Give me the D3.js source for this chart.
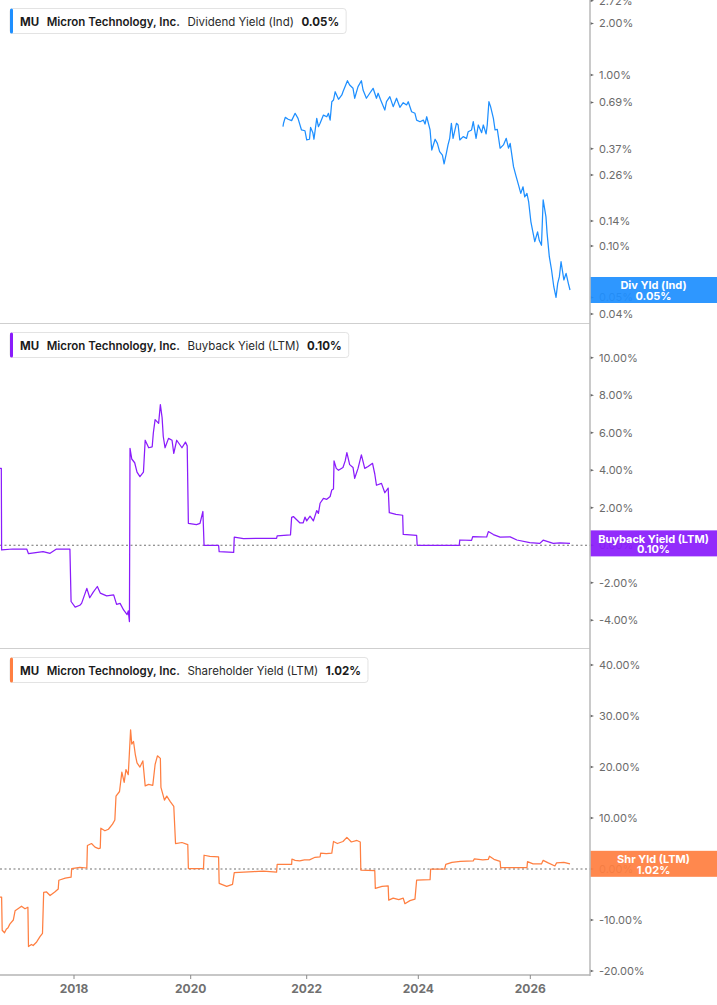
<!DOCTYPE html>
<html>
<head>
<meta charset="utf-8">
<script src="https://cdn.jsdelivr.net/npm/d3@7"></script>
<style>
  body { margin: 0; background: #fff; }
  svg { display: block; font-family: Inter, "Noto Sans", sans-serif; }
</style>
</head>
<body>
<div id="chart"></div>
<script>
// values: [decimal year, percent]
const yearTicks = [2018, 2020, 2022, 2024, 2026];
const divTicks = [2.72, 2.00, 1.00, 0.69, 0.37, 0.26, 0.14, 0.10, 0.05, 0.04];
const bbTicks = [-4, -2, 0, 2, 4, 6, 8, 10];
const shrTicks = [-20, -10, 0, 10, 20, 30, 40];

const ticker = "MU";
const company = "Micron Technology, Inc.";
const metricNames = ["Dividend Yield (Ind)", "Buyback Yield (LTM)", "Shareholder Yield (LTM)"];
const shortNames = ["Div Yld (Ind)", "Buyback Yield (LTM)", "Shr Yld (LTM)"];
const lastValues = ["0.05%", "0.10%", "1.02%"];

const divSeries = [
    [2021.59, 0.499], [2021.60, 0.522], [2021.63, 0.565], [2021.68, 0.551], [2021.74, 0.541],
    [2021.80, 0.597], [2021.85, 0.558], [2021.91, 0.477], [2021.97, 0.472], [2022.00, 0.417],
    [2022.05, 0.421], [2022.07, 0.494], [2022.11, 0.460], [2022.13, 0.421], [2022.18, 0.558],
    [2022.21, 0.499], [2022.24, 0.522], [2022.30, 0.583], [2022.36, 0.570], [2022.39, 0.597],
    [2022.42, 0.545], [2022.45, 0.698], [2022.48, 0.714], [2022.51, 0.798], [2022.57, 0.721],
    [2022.63, 0.764], [2022.65, 0.798], [2022.73, 0.926], [2022.77, 0.874], [2022.83, 0.836],
    [2022.86, 0.731], [2022.92, 0.855], [2022.98, 0.926], [2023.01, 0.817], [2023.07, 0.731],
    [2023.13, 0.782], [2023.19, 0.836], [2023.25, 0.731], [2023.28, 0.782], [2023.32, 0.721],
    [2023.40, 0.624], [2023.43, 0.698], [2023.49, 0.747], [2023.55, 0.653], [2023.61, 0.731],
    [2023.67, 0.647], [2023.73, 0.689], [2023.79, 0.668], [2023.82, 0.698], [2023.88, 0.610],
    [2023.94, 0.597], [2023.97, 0.545], [2024.03, 0.533], [2024.09, 0.545], [2024.12, 0.517],
    [2024.15, 0.570], [2024.21, 0.477], [2024.24, 0.364], [2024.30, 0.421], [2024.34, 0.398],
    [2024.38, 0.356], [2024.43, 0.340], [2024.46, 0.302], [2024.50, 0.348], [2024.53, 0.390],
    [2024.56, 0.426], [2024.59, 0.522], [2024.62, 0.426], [2024.68, 0.522], [2024.71, 0.510],
    [2024.74, 0.417], [2024.80, 0.436], [2024.86, 0.426], [2024.89, 0.466], [2024.95, 0.477],
    [2024.98, 0.533], [2025.03, 0.426], [2025.07, 0.510], [2025.13, 0.460], [2025.16, 0.510],
    [2025.21, 0.452], [2025.23, 0.510], [2025.26, 0.698], [2025.29, 0.653], [2025.34, 0.558],
    [2025.37, 0.477], [2025.41, 0.481], [2025.46, 0.373], [2025.52, 0.390], [2025.57, 0.426],
    [2025.61, 0.373], [2025.64, 0.398], [2025.70, 0.291], [2025.74, 0.260], [2025.79, 0.227],
    [2025.83, 0.203], [2025.87, 0.222], [2025.90, 0.194], [2025.94, 0.203], [2025.97, 0.182],
    [2026.01, 0.139], [2026.05, 0.119], [2026.08, 0.106], [2026.13, 0.121], [2026.16, 0.108],
    [2026.20, 0.101], [2026.23, 0.186], [2026.28, 0.148], [2026.30, 0.119], [2026.34, 0.0866],
    [2026.38, 0.0724], [2026.42, 0.0578], [2026.46, 0.0501], [2026.49, 0.0605], [2026.52, 0.0662],
    [2026.55, 0.0809], [2026.60, 0.0633], [2026.64, 0.0692], [2026.68, 0.0605], [2026.71, 0.0553]
];

const bbSeries = [
    [2016.73, 4.1], [2016.755, 4.1], [2016.76, -0.25], [2016.95, -0.2], [2017.19, -0.2],
    [2017.22, -0.45], [2017.47, -0.34], [2017.59, -0.43], [2017.70, -0.2], [2017.93, -0.2],
    [2017.95, -3.0], [2018.02, -3.3], [2018.10, -3.2], [2018.13, -3.1], [2018.22, -2.3],
    [2018.27, -2.8], [2018.33, -2.5], [2018.40, -2.2], [2018.45, -2.55], [2018.56, -2.7],
    [2018.68, -2.65], [2018.73, -3.15], [2018.79, -3.1], [2018.85, -3.45], [2018.91, -3.7],
    [2018.93, -3.5], [2018.95, -4.07], [2018.96, 5.17], [2018.99, 4.6], [2019.04, 4.4],
    [2019.08, 3.9], [2019.13, 3.66], [2019.19, 3.9], [2019.22, 5.6], [2019.28, 5.2],
    [2019.34, 5.25], [2019.36, 6.0], [2019.39, 6.7], [2019.45, 6.5], [2019.48, 7.5],
    [2019.51, 6.8], [2019.53, 5.8], [2019.56, 5.2], [2019.62, 5.7], [2019.68, 5.6],
    [2019.71, 4.9], [2019.76, 5.6], [2019.85, 5.2], [2019.91, 5.5], [2019.94, 5.3],
    [2019.96, 1.17], [2020.10, 1.1], [2020.16, 1.17], [2020.21, 1.8], [2020.23, 0.0],
    [2020.48, 0.0], [2020.49, -0.34], [2020.74, -0.38], [2020.75, 0.43], [2020.91, 0.35],
    [2021.20, 0.37], [2021.48, 0.37], [2021.49, 0.5], [2021.72, 0.55], [2021.74, 1.49],
    [2021.77, 1.53], [2021.88, 1.2], [2021.94, 1.2], [2021.97, 1.5], [2022.00, 1.3],
    [2022.06, 1.55], [2022.12, 1.3], [2022.18, 1.85], [2022.21, 1.7], [2022.24, 2.24],
    [2022.30, 2.5], [2022.36, 2.45], [2022.42, 2.6], [2022.45, 2.95], [2022.48, 3.0],
    [2022.49, 4.5], [2022.53, 4.1], [2022.57, 4.0], [2022.65, 4.15], [2022.69, 4.5],
    [2022.72, 4.94], [2022.77, 4.3], [2022.83, 4.15], [2022.86, 3.57], [2022.92, 4.1],
    [2022.98, 4.82], [2023.04, 4.1], [2023.10, 4.2], [2023.18, 4.37], [2023.22, 3.8],
    [2023.25, 3.2], [2023.34, 3.3], [2023.40, 2.8], [2023.46, 3.05], [2023.48, 1.74],
    [2023.60, 1.65], [2023.72, 1.6], [2023.73, 0.58], [2023.97, 0.53], [2023.98, 0.0],
    [2024.73, 0.0], [2024.74, 0.28], [2024.95, 0.26], [2024.97, 0.46], [2025.22, 0.44],
    [2025.25, 0.73], [2025.34, 0.57], [2025.46, 0.43], [2025.64, 0.45], [2025.76, 0.28],
    [2025.99, 0.14], [2026.17, 0.1], [2026.23, 0.27], [2026.41, 0.1], [2026.53, 0.13],
    [2026.71, 0.10]
];

const shrSeries = [
    [2016.73, -5.5], [2016.76, -5.5], [2016.77, -12.0], [2016.81, -12.5], [2016.84, -11.8],
    [2016.87, -11.5], [2016.90, -10.8], [2016.96, -10.0], [2016.99, -8.2], [2017.04, -7.8],
    [2017.10, -7.3], [2017.16, -7.8], [2017.21, -7.5], [2017.22, -15.2], [2017.27, -14.8],
    [2017.30, -15.0], [2017.36, -14.3], [2017.42, -13.2], [2017.46, -12.6], [2017.48, -4.6],
    [2017.53, -4.5], [2017.59, -5.2], [2017.67, -4.5], [2017.73, -3.9], [2017.74, -2.2],
    [2017.85, -1.8], [2017.95, -1.6], [2017.96, 0.1], [2018.10, 0.3], [2018.22, 0.2],
    [2018.23, 4.6], [2018.30, 5.0], [2018.36, 4.3], [2018.42, 4.0], [2018.45, 4.1],
    [2018.46, 8.0], [2018.53, 7.5], [2018.59, 7.8], [2018.66, 8.8], [2018.70, 9.6],
    [2018.72, 14.3], [2018.78, 15.2], [2018.82, 19.0], [2018.86, 17.0], [2018.89, 19.5],
    [2018.93, 18.5], [2018.97, 27.3], [2018.99, 24.5], [2019.02, 25.0], [2019.05, 22.5],
    [2019.08, 20.8], [2019.13, 20.0], [2019.18, 21.2], [2019.22, 16.3], [2019.28, 16.6],
    [2019.35, 16.4], [2019.39, 20.5], [2019.43, 22.2], [2019.48, 21.7], [2019.49, 16.0],
    [2019.55, 13.5], [2019.59, 14.3], [2019.65, 13.2], [2019.71, 12.3], [2019.74, 5.0],
    [2019.85, 5.2], [2019.95, 4.8], [2019.96, 0.1], [2020.22, 0.1], [2020.23, 2.7],
    [2020.33, 2.5], [2020.48, 2.4], [2020.49, -2.8], [2020.62, -3.4], [2020.72, -3.0],
    [2020.75, -0.7], [2021.08, -0.5], [2021.25, -0.4], [2021.48, -0.6], [2021.49, 0.9],
    [2021.74, 0.9], [2021.745, 1.96], [2021.80, 1.7], [2021.88, 1.6], [2021.96, 1.8],
    [2022.05, 1.8], [2022.15, 2.3], [2022.24, 2.4], [2022.25, 3.1], [2022.35, 3.0],
    [2022.45, 3.1], [2022.48, 5.4], [2022.55, 5.0], [2022.65, 5.4], [2022.72, 6.2],
    [2022.80, 5.3], [2022.90, 5.6], [2022.96, 5.3], [2022.97, -0.2], [2023.22, -0.3],
    [2023.23, -3.8], [2023.35, -3.4], [2023.46, -3.3], [2023.47, -6.1], [2023.55, -5.7],
    [2023.65, -6.0], [2023.73, -5.7], [2023.76, -6.8], [2023.85, -6.2], [2023.94, -5.9],
    [2023.97, -2.2], [2024.21, -2.1], [2024.22, 0.0], [2024.47, 0.0], [2024.49, 0.9],
    [2024.60, 1.3], [2024.75, 1.5], [2024.98, 1.6], [2025.00, 2.0], [2025.15, 1.8],
    [2025.25, 1.9], [2025.27, 2.5], [2025.35, 1.9], [2025.46, 1.5], [2025.47, 0.26],
    [2025.94, 0.26], [2025.95, 1.44], [2026.05, 1.0], [2026.20, 1.0], [2026.23, 1.7],
    [2026.32, 1.2], [2026.44, 0.6], [2026.47, 1.2], [2026.60, 1.3], [2026.71, 1.02]
];

// set up svg area
const svgWidth = 717;
const svgHeight = 1005;
const plotRight = 590;
const plotBottom = 975;

const svg = d3.select("#chart").append("svg")
    .attr("width", svgWidth)
    .attr("height", svgHeight);

svg.append("rect").attr("width", svgWidth).attr("height", svgHeight).attr("fill", "#fff");

// decimal year -> UTC date
const toDate = t => {
    const yr = Math.floor(t);
    const s = Date.UTC(yr, 0, 1), e = Date.UTC(yr + 1, 0, 1);
    return new Date(s + (t - yr) * (e - s));
};

// the reference axis is not evenly spaced, so use a piecewise time scale
const x = d3.scaleUtc()
    .domain(yearTicks.map(yr => new Date(Date.UTC(yr, 0, 1))))
    .range([74, 190.7, 306.7, 418.3, 530.3]);

const panels = [
    {
        series: divSeries, ticks: divTicks, color: "#1e8fff", top: 0, bottom: 323,
        y: d3.scaleLog().domain([0.03546, 2.745]).range([323, 0]), zero: false
    },
    {
        series: bbSeries, ticks: bbTicks, color: "#8a1cfb", top: 324, bottom: 648,
        y: d3.scaleLinear().domain([-5.48, 11.8]).range([648, 324]), zero: true
    },
    {
        series: shrSeries, ticks: shrTicks, color: "#ff7f41", top: 649, bottom: 975,
        y: d3.scaleLinear().domain([-20.78, 43.14]).range([975, 649]), zero: true
    }
];

const fmt = d => d.toFixed(2) + "%";

panels.forEach((p, i) => {
    const g = svg.append("g");

    // clip region for the line
    g.append("clipPath").attr("id", `clip${i}`)
        .append("rect")
        .attr("x", 0).attr("y", p.top)
        .attr("width", plotRight).attr("height", p.bottom - p.top);

    // right axis ticks
    const tickG = g.append("g")
        .selectAll("g")
        .data(p.ticks)
        .enter()
        .append("g")
        .attr("transform", d => `translate(${plotRight}, ${p.y(d)})`);

    tickG.append("path")
        .attr("d", "M0,-1.5L4,0L0,1.5Z")
        .attr("fill", "#666");

    tickG.append("text")
        .attr("x", 9)
        .attr("dy", "0.35em")
        .attr("font-size", 11)
        .attr("fill", "#6b6b6b")
        .text(fmt);

    // dotted zero line
    if (p.zero) {
        g.append("line")
            .attr("x1", 0).attr("x2", plotRight)
            .attr("y1", p.y(0)).attr("y2", p.y(0))
            .attr("stroke", "#707070")
            .attr("stroke-width", 1.1)
            .attr("stroke-dasharray", "2,2.5");
    }

    // series line
    const line = d3.line()
        .x(d => x(toDate(d[0])))
        .y(d => p.y(d[1]));

    g.append("path")
        .datum(p.series)
        .attr("clip-path", `url(#clip${i})`)
        .attr("d", line)
        .attr("fill", "none")
        .attr("stroke", p.color)
        .attr("stroke-width", 1.25)
        .attr("stroke-linejoin", "round");

    // last value box on the right
    const last = p.series[p.series.length - 1];
    const cy = p.y(last[1]);
    g.append("rect")
        .attr("x", plotRight).attr("y", cy - 13)
        .attr("width", svgWidth - plotRight).attr("height", 26)
        .attr("fill", p.color)
        .attr("fill-opacity", 0.93);

    const boxText = g.append("text")
        .attr("text-anchor", "middle")
        .attr("font-size", 11)
        .attr("font-weight", 700)
        .attr("fill", "#fff");
    boxText.append("tspan").attr("x", 653.5).attr("y", cy - 0.5).text(shortNames[i]);
    boxText.append("tspan").attr("x", 653.5).attr("y", cy + 10).text(lastValues[i]);

    // legend box at top left
    const ly = p.top + 8.5;
    const leg = g.append("g").attr("transform", `translate(10, ${ly})`);
    const legBg = leg.append("rect")
        .attr("height", 25).attr("rx", 3)
        .attr("fill", "#fff")
        .attr("stroke", "#e3e3e3");
    leg.append("rect")
        .attr("width", 3).attr("height", 25).attr("rx", 1.5)
        .attr("fill", p.color);

    const parts = [
        { t: ticker, w: 700, c: "#1b1b1b" },
        { t: company, w: 600, c: "#1b1b1b" },
        { t: metricNames[i], w: 400, c: "#2a2a2a" },
        { t: lastValues[i], w: 700, c: "#1b1b1b" }
    ];
    let cx = 10;
    parts.forEach(pt => {
        const tx = leg.append("text")
            .attr("x", cx).attr("y", 17)
            .attr("font-size", 11.5)
            .attr("font-weight", pt.w)
            .attr("fill", pt.c)
            .text(pt.t);
        cx += tx.node().getComputedTextLength() + 7.5;
    });
    legBg.attr("width", cx - 0.5);
});

// panel separators
[323.5, 648.5].forEach(yy => {
    svg.append("line")
        .attr("x1", 0).attr("x2", plotRight)
        .attr("y1", yy).attr("y2", yy)
        .attr("stroke", "#cfcfcf");
});

// right vertical axis line
svg.append("line")
    .attr("x1", plotRight).attr("x2", plotRight)
    .attr("y1", 0).attr("y2", plotBottom + 1)
    .attr("stroke", "#bdbdbd")
    .attr("stroke-width", 1.6);

// bottom time axis
const xAxisG = svg.append("g")
    .attr("transform", `translate(0, ${plotBottom})`);

xAxisG.append("line")
    .attr("x1", 0).attr("x2", plotRight)
    .attr("stroke", "#b5b5b5")
    .attr("stroke-width", 1.6);

const yearG = xAxisG.selectAll("g.year")
    .data(yearTicks)
    .enter()
    .append("g")
    .attr("transform", d => `translate(${x(new Date(Date.UTC(d, 0, 1)))}, 0)`);

yearG.append("line")
    .attr("y1", 0).attr("y2", 4)
    .attr("stroke", "#8a8a8a");

yearG.append("text")
    .attr("y", 18)
    .attr("text-anchor", "middle")
    .attr("font-size", 12)
    .attr("font-weight", 700)
    .attr("fill", "#707070")
    .text(d => d);
</script>
</body>
</html>
